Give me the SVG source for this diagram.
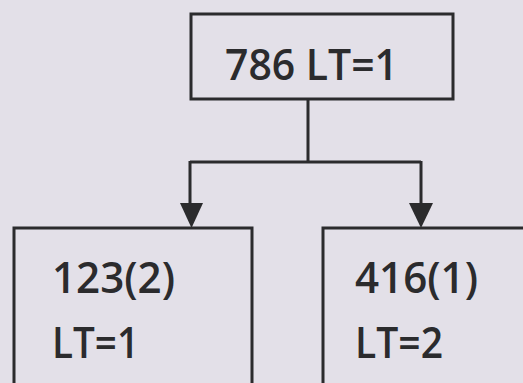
<svg xmlns="http://www.w3.org/2000/svg" width="523" height="383" viewBox="0 0 523 383">
<style>
.box{fill:none;stroke:#2b2b2d;stroke-width:3}
.t{font-family:"Open Sans","Liberation Sans",sans-serif;fill:#2b2b2d;font-size:43px;font-weight:600}
.c{fill:none;stroke:#2b2b2d;stroke-width:3}
</style>
<rect width="523" height="383" fill="#e3e0e8"/>
<g id="connectors">
<path class="c" d="M308,99 V162 M190,162 H421 M190,161 V205 M421,161 V205"/>
<path d="M180,203 L203,203 L191.5,228 Z" fill="#2b2b2d"/>
<path d="M409,203 L433,203 L421,228 Z" fill="#2b2b2d"/>
</g>
<g id="n786">
<rect class="box" x="191" y="14" width="262" height="85"/>
<text class="t" x="225" y="80" textLength="173" lengthAdjust="spacingAndGlyphs">786 LT=1</text>
</g>
<g id="n123">
<rect class="box" x="14" y="228" width="238" height="170"/>
<text class="t" x="52" y="293" textLength="123" lengthAdjust="spacingAndGlyphs">123(2)</text>
<text class="t" x="52" y="358" textLength="87" lengthAdjust="spacingAndGlyphs">LT=1</text>
</g>
<g id="n416">
<rect class="box" x="323" y="228" width="220" height="170"/>
<text class="t" x="355" y="293" textLength="123" lengthAdjust="spacingAndGlyphs">416(1)</text>
<text class="t" x="355" y="358" textLength="88" lengthAdjust="spacingAndGlyphs">LT=2</text>
</g>
</svg>
